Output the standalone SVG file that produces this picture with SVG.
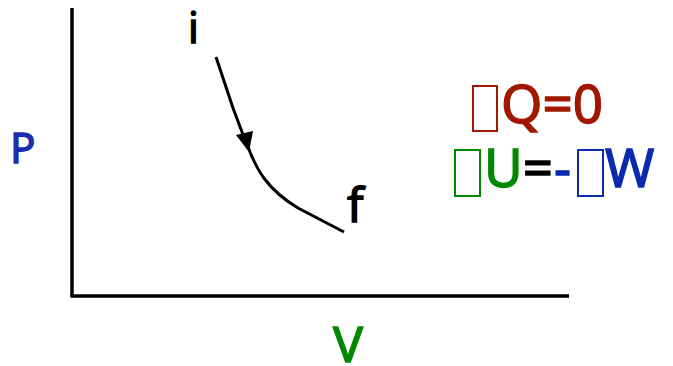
<svg xmlns="http://www.w3.org/2000/svg" width="673" height="366" viewBox="0 0 673 366">
<style>
text{font-family:"Noto Sans","DejaVu Sans",sans-serif;stroke-width:1.3}
.ax{stroke:#000;stroke-width:3.5;fill:none}
.cv{stroke:#000;stroke-width:3;fill:none}
.box{fill:none;stroke-width:2}
</style>
<g id="axes">
<line class="ax" x1="72" y1="8" x2="72" y2="297"/>
<line class="ax" x1="70.5" y1="296" x2="569" y2="296"/>
</g>
<g id="connectors">
<path class="cv" d="M216,57 L233,108 L245,140"/>
<path class="cv" d="M247,144 C256,170 268,190 298,208 L344,232"/>
<path d="M236,135 L253,131 L249,152 Z" fill="#000"/>
</g>
<g id="labels">
<text x="188" y="43" font-size="42" stroke="#000">i</text>
<text x="347" y="222" font-size="48" stroke="#000">f</text>
<text x="10" y="163" font-size="42" fill="#1a2fb0" stroke="#1a2fb0">P</text>
<text x="333" y="362" font-size="50" fill="#008800" stroke="#008800">V</text>
</g>
<g id="eq1" fill="#a01800">
<rect class="box" x="473" y="86" width="24" height="45" stroke="#a01800"/>
<text x="501" y="123" font-size="53" stroke="#a01800">Q=0</text>
</g>
<g id="eq2">
<rect class="box" x="455" y="150" width="25" height="46" stroke="#008800"/>
<text x="484" y="187" font-size="53"><tspan fill="#008800" stroke="#008800">U</tspan><tspan fill="#000" stroke="#000">=</tspan><tspan fill="#0a2ab0" stroke="#0a2ab0" dx="1">-</tspan></text>
<rect class="box" x="578" y="150" width="25" height="46" stroke="#0a2ab0"/>
<text x="605" y="187" font-size="53" fill="#0a2ab0" stroke="#0a2ab0">W</text>
</g>
</svg>
